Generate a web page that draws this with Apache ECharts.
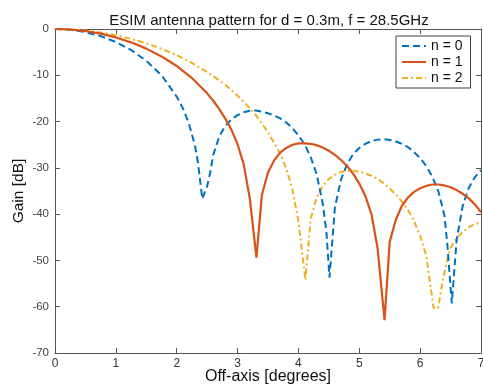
<!DOCTYPE html>
<html>
<head>
<meta charset="utf-8">
<script src="https://cdn.jsdelivr.net/npm/echarts@6/dist/echarts.min.js"></script>
<style>
html,body{margin:0;padding:0;background:#fff;}
#chart{width:483px;height:385px;}
</style>
</head>
<body>
<div id="chart"></div>
<script>
const titleText = 'ESIM antenna pattern for d = 0.3m, f = 28.5GHz';
const xName = 'Off-axis [degrees]';
const yName = 'Gain [dB]';
const seriesNames = ['n = 0', 'n = 1', 'n = 2'];

const n0X = [0,0.25,0.5,0.75,1,1.25,1.5,1.75,2,2.1,2.2,2.3,2.35,2.42,2.5,2.55,2.6,2.7,2.8,2.9,3,3.1,3.2,3.3,3.4,3.5,3.6,3.7,3.8,3.9,4,4.1,4.2,4.3,4.4,4.46,4.51,4.6,4.7,4.8,4.9,5,5.1,5.2,5.3,5.4,5.5,5.6,5.7,5.8,5.9,6,6.1,6.2,6.3,6.4,6.45,6.52,6.6,6.7,6.8,6.9,7];
const n0Y = [0,-0.17,-0.67,-1.53,-2.8,-4.54,-6.87,-10.0,-14.6,-17.1,-20.4,-25.2,-28.9,-36.7,-34.0,-31.0,-27.2,-23.2,-20.9,-19.5,-18.6,-18.0,-17.65,-17.6,-17.85,-18.2,-18.7,-19.3,-20.2,-21.4,-23.0,-24.9,-27.6,-31.4,-37.8,-43.8,-53.7,-38.5,-32.5,-29.2,-27.0,-25.7,-24.8,-24.2,-23.9,-23.8,-24.0,-24.3,-24.8,-25.5,-26.6,-27.9,-29.6,-31.9,-35.1,-40.3,-47.0,-59.3,-45.5,-38.2,-34.3,-32.0,-30.5];

const n1X = [0,0.25,0.5,0.75,1,1.25,1.5,1.75,2,2.25,2.5,2.6,2.7,2.8,2.9,3,3.1,3.2,3.31,3.4,3.5,3.6,3.7,3.8,3.9,4,4.1,4.2,4.3,4.4,4.5,4.6,4.7,4.8,4.9,5,5.1,5.2,5.3,5.415,5.5,5.6,5.7,5.8,5.9,6,6.1,6.2,6.3,6.4,6.5,6.6,6.7,6.8,6.9,7];
const n1Y = [0,-0.11,-0.44,-1.01,-1.82,-2.88,-4.24,-5.92,-7.99,-10.6,-13.9,-15.5,-17.3,-19.4,-21.8,-24.9,-29.2,-36.5,-49.4,-35.8,-31.0,-28.4,-26.7,-25.7,-25.0,-24.7,-24.7,-24.8,-25.1,-25.6,-26.3,-27.2,-28.3,-29.6,-31.3,-33.4,-36.1,-40.0,-47.3,-62.9,-46.0,-41.2,-38.2,-36.4,-35.2,-34.4,-33.9,-33.6,-33.6,-33.8,-34.2,-34.8,-35.6,-36.6,-37.9,-39.6];

const n2X = [0,0.25,0.5,0.75,1,1.25,1.5,1.75,2,2.25,2.5,2.6,2.7,2.8,2.9,3,3.1,3.2,3.3,3.4,3.5,3.6,3.7,3.8,3.9,4,4.115,4.2,4.3,4.4,4.5,4.6,4.7,4.8,4.9,5,5.1,5.2,5.3,5.4,5.5,5.6,5.7,5.8,5.9,6,6.1,6.22,6.295,6.37,6.44,6.5,6.6,6.7,6.8,6.9,7];
const n2Y = [0,-0.08,-0.33,-0.75,-1.35,-2.12,-3.09,-4.27,-5.67,-7.34,-9.3,-10.2,-11.1,-12.1,-13.2,-14.4,-15.7,-17.1,-18.6,-20.4,-22.3,-24.6,-26.9,-30.2,-34.6,-41.5,-54.2,-41.1,-36.4,-33.9,-32.4,-31.5,-30.9,-30.65,-30.6,-30.8,-31.2,-31.7,-32.4,-33.3,-34.5,-35.7,-37.3,-39.1,-41.5,-44.7,-48.9,-60.3,-60.3,-54.4,-50.1,-47.3,-45.2,-43.8,-42.8,-42.1,-41.8];

const xTicks = [0,1,2,3,4,5,6,7];
const yTicks = [0,-10,-20,-30,-40,-50,-60,-70];

const colors = ['#0072BD', '#D95319', '#EDB120'];
const FONT = 'Liberation Sans, Arial, Helvetica, sans-serif';
const AX = '#555555';

function zip(xs, ys){ return xs.map((x,i)=>[x, ys[i]]); }

const chart = echarts.init(document.getElementById('chart'), null, {renderer:'canvas'});

const axisCommon = {
  type: 'value',
  axisLine: {show:true, onZero:false, lineStyle:{color:AX, width:1}},
  axisTick: {show:true, inside:true, length:5, lineStyle:{color:AX, width:1}},
  splitLine: {show:false}
};

chart.setOption({
  animation: false,
  backgroundColor: '#fff',
  title: {
    text: titleText,
    left: 264, top: 8,
    textAlign: 'center',
    textStyle: {fontFamily: FONT, fontSize: 15, fontWeight: 'normal', color: '#111'}
  },
  grid: {left: 55, right: 2, top: 29, bottom: 32, containLabel: false, outerBoundsMode: 'none'},
  legend: {
    left: 396, top: 36,
    orient: 'vertical',
    data: seriesNames,
    itemWidth: 24, itemHeight: 14, itemGap: 2,
    padding: [3, 8, 3, 5],
    borderColor: '#404040', borderWidth: 1, backgroundColor: '#fff',
    itemStyle: {opacity: 0, color: 'transparent', borderWidth: 0},
    textStyle: {fontFamily: FONT, fontSize: 14, color: '#111'}
  },
  xAxis: [
    Object.assign({}, axisCommon, {
      min: 0, max: 7, interval: 1, position: 'bottom',
      axisLabel: {show:true, margin: 5, fontFamily: FONT, fontSize: 12, color: '#333',
        formatter: v => xTicks.includes(v) ? String(v) : ''},
      name: xName, nameLocation: 'middle', nameGap: 16, nameMoveOverlap: false,
      nameTextStyle: {fontFamily: FONT, fontSize: 16, color: '#111'}
    }),
    Object.assign({}, axisCommon, {
      min: 0, max: 7, interval: 1, position: 'top',
      axisLabel: {show:false}
    })
  ],
  yAxis: [
    Object.assign({}, axisCommon, {
      min: -70, max: 0, interval: 10, position: 'left',
      axisLabel: {show:true, margin: 6, fontFamily: FONT, fontSize: 11.5, color: '#444',
        formatter: v => yTicks.includes(v) ? String(v) : ''},
      name: yName, nameLocation: 'middle', nameGap: 28, nameRotate: 90, nameMoveOverlap: false,
      nameTextStyle: {fontFamily: FONT, fontSize: 15.5, color: '#111'}
    }),
    Object.assign({}, axisCommon, {
      min: -70, max: 0, interval: 10, position: 'right',
      axisLabel: {show:false}
    })
  ],
  series: [
    {name: seriesNames[0], type:'line', data: zip(n0X, n0Y), showSymbol:false, symbol:'none',
     lineStyle:{color:colors[0], width:2, type:[7,4]}, itemStyle:{color:colors[0]}, z:3},
    {name: seriesNames[1], type:'line', data: zip(n1X, n1Y), showSymbol:false, symbol:'none',
     lineStyle:{color:colors[1], width:2.2, type:'solid'}, itemStyle:{color:colors[1]}, z:4},
    {name: seriesNames[2], type:'line', data: zip(n2X, n2Y), showSymbol:false, symbol:'none',
     lineStyle:{color:colors[2], width:2, type:[6,3,2,3]}, itemStyle:{color:colors[2]}, z:2}
  ]
});
</script>
</body>
</html>
